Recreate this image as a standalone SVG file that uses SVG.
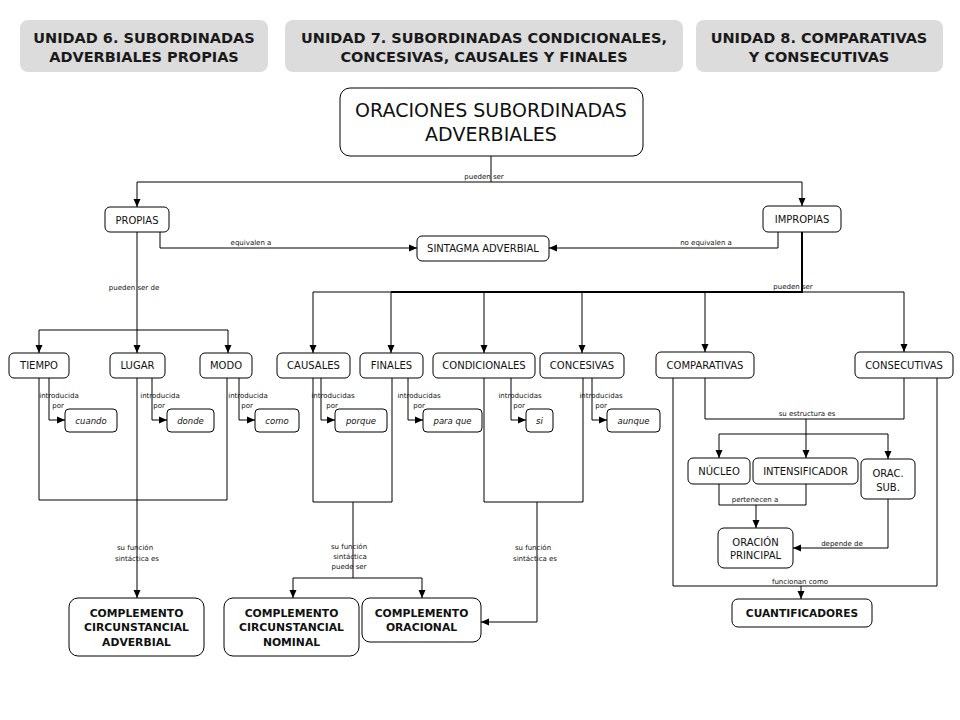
<svg xmlns="http://www.w3.org/2000/svg" width="960" height="720" viewBox="0 0 960 720">
<defs>
<marker id="ar" markerUnits="userSpaceOnUse" markerWidth="8" markerHeight="8" viewBox="0 0 8 8" refX="8" refY="4" orient="auto">
<path d="M0,0.5 L8,4 L0,7.5 Z" fill="#000"/>
</marker>
<style>
.hdr{fill:#dcdcdc;stroke:none}
.ht{font-family:"DejaVu Sans",Verdana,sans-serif;font-weight:bold;font-size:14.5px;fill:#1a1a1a;text-anchor:middle}
.box{fill:#fff;stroke:#000;stroke-width:1}
.bt{font-family:"DejaVu Sans",Verdana,sans-serif;font-size:10px;fill:#111;text-anchor:middle}
.it{font-family:"DejaVu Sans",Verdana,sans-serif;font-size:8.5px;font-style:italic;fill:#111;text-anchor:middle}
.bb{font-family:"DejaVu Sans",Verdana,sans-serif;font-size:10.8px;font-weight:bold;fill:#111;text-anchor:middle}
.tt{font-family:"DejaVu Sans",Verdana,sans-serif;font-size:19px;fill:#111;text-anchor:middle}
.lb{font-family:"DejaVu Sans",Verdana,sans-serif;font-size:7px;fill:#111;text-anchor:middle}
.c{fill:none;stroke:#000;stroke-width:1}
.ca{fill:none;stroke:#000;stroke-width:1;marker-end:url(#ar)}
.thick{fill:none;stroke:#000;stroke-width:2}
</style>
</defs>
<rect width="960" height="720" fill="#fff"/>

<g id="unidad6">
<rect class="hdr" x="20" y="20" width="248" height="52" rx="8"/>
<text class="ht" x="144" y="43">UNIDAD 6. SUBORDINADAS</text>
<text class="ht" x="144" y="62">ADVERBIALES PROPIAS</text>
</g>
<g id="unidad7">
<rect class="hdr" x="285" y="20" width="398" height="52" rx="8"/>
<text class="ht" x="484" y="43">UNIDAD 7. SUBORDINADAS CONDICIONALES,</text>
<text class="ht" x="484" y="62">CONCESIVAS, CAUSALES Y FINALES</text>
</g>
<g id="unidad8">
<rect class="hdr" x="696" y="20" width="247" height="52" rx="8"/>
<text class="ht" x="819" y="43">UNIDAD 8. COMPARATIVAS</text>
<text class="ht" x="819" y="62">Y CONSECUTIVAS</text>
</g>

<g id="connectors">
<path class="c" d="M491,156 V182 M137,182 H802"/>
<path class="ca" d="M137,182 V207"/>
<path class="ca" d="M802,182 V206"/>
<path class="ca" d="M160,232 V248 H417"/>
<path class="ca" d="M778,232 V248 H549"/>
<path class="thick" d="M802,232 V292 H391"/>
<path class="c" d="M391,292 H313 M802,292 H904"/>
<path class="ca" d="M313,292 V353"/>
<path class="ca" d="M391,292 V353"/>
<path class="ca" d="M484,292 V353"/>
<path class="ca" d="M582,292 V353"/>
<path class="ca" d="M705,292 V352"/>
<path class="ca" d="M904,292 V352"/>
<path class="c" d="M137,232 V330 M39,330 H228"/>
<path class="ca" d="M39,330 V353"/>
<path class="ca" d="M137,330 V353"/>
<path class="ca" d="M228,330 V353"/>
<path class="ca" d="M49,378 V420 H65"/>
<path class="ca" d="M152,378 V420 H167"/>
<path class="ca" d="M239,378 V420 H255"/>
<path class="ca" d="M321,378 V420 H335"/>
<path class="ca" d="M408,378 V420 H423"/>
<path class="ca" d="M511,378 V420 H526"/>
<path class="ca" d="M592,378 V420 H607"/>
<path class="c" d="M39,378 V500 H227 V378"/>
<path class="ca" d="M137,378 V598"/>
<path class="c" d="M313,378 V502 H392 V378 M353,502 V578 M293,578 H422"/>
<path class="ca" d="M293,578 V598"/>
<path class="ca" d="M422,578 V598"/>
<path class="c" d="M484,378 V502 H583 V378"/>
<path class="ca" d="M537,502 V622 H481"/>
<path class="c" d="M705,378 V419 H904 V378 M806,419 V434 M719,434 H888"/>
<path class="ca" d="M719,434 V458"/>
<path class="ca" d="M806,434 V458"/>
<path class="ca" d="M888,434 V459"/>
<path class="c" d="M719,484 V505 H806 V484"/>
<path class="ca" d="M756,505 V528"/>
<path class="ca" d="M888,499 V548 H793"/>
<path class="c" d="M673,378 V586 H937 V378"/>
<path class="ca" d="M801,586 V599"/>

<text class="lb" x="484" y="179">pueden ser</text>
<text class="lb" x="251" y="245">equivalen a</text>
<text class="lb" x="706" y="245">no equivalen a</text>
<text class="lb" x="134" y="290">pueden ser de</text>
<text class="lb" x="793" y="289">pueden ser</text>
<text class="lb" x="59" y="398">introducida</text>
<text class="lb" x="58" y="408">por</text>
<text class="lb" x="160" y="398">introducida</text>
<text class="lb" x="159" y="408">por</text>
<text class="lb" x="248" y="398">introducida</text>
<text class="lb" x="247" y="408">por</text>
<text class="lb" x="333" y="398">introducidas</text>
<text class="lb" x="332" y="408">por</text>
<text class="lb" x="419" y="398">introducidas</text>
<text class="lb" x="419" y="408">por</text>
<text class="lb" x="520" y="398">introducidas</text>
<text class="lb" x="519" y="408">por</text>
<text class="lb" x="601" y="398">introducidas</text>
<text class="lb" x="601" y="408">por</text>
<text class="lb" x="807" y="416">su estructura es</text>
<text class="lb" x="755" y="502">pertenecen a</text>
<text class="lb" x="842" y="546">depende de</text>
<text class="lb" x="800" y="584">funcionan como</text>
<text class="lb" x="135" y="550">su función</text>
<text class="lb" x="137" y="561">sintáctica es</text>
<text class="lb" x="349" y="549">su función</text>
<text class="lb" x="350" y="559">sintáctica</text>
<text class="lb" x="349" y="569">puede ser</text>
<text class="lb" x="533" y="550">su función</text>
<text class="lb" x="535" y="561">sintáctica es</text>
</g>

<g id="titulo">
<rect class="box" x="340" y="88" width="303" height="68" rx="10"/>
<text class="tt" x="491" y="117">ORACIONES SUBORDINADAS</text>
<text class="tt" x="491" y="141">ADVERBIALES</text>
</g>
<g id="propias"><rect class="box" x="105" y="207" width="64" height="25" rx="5"/><text class="bt" x="137" y="223.5">PROPIAS</text></g>
<g id="impropias"><rect class="box" x="763" y="206" width="78" height="26" rx="5"/><text class="bt" x="802" y="222.5">IMPROPIAS</text></g>
<g id="sintagma"><rect class="box" x="417" y="236" width="132" height="25" rx="5"/><text class="bt" x="483" y="252">SINTAGMA ADVERBIAL</text></g>

<g id="tiempo"><rect class="box" x="9" y="353" width="60" height="25" rx="5"/><text class="bt" x="39" y="369">TIEMPO</text></g>
<g id="lugar"><rect class="box" x="110" y="353" width="55" height="25" rx="5"/><text class="bt" x="137.5" y="369">LUGAR</text></g>
<g id="modo"><rect class="box" x="200" y="353" width="52" height="25" rx="5"/><text class="bt" x="226" y="369">MODO</text></g>
<g id="causales"><rect class="box" x="277" y="353" width="73" height="25" rx="5"/><text class="bt" x="313.5" y="369">CAUSALES</text></g>
<g id="finales"><rect class="box" x="360" y="353" width="63" height="25" rx="5"/><text class="bt" x="391.5" y="369">FINALES</text></g>
<g id="condicionales"><rect class="box" x="433" y="353" width="102" height="25" rx="5"/><text class="bt" x="484" y="369">CONDICIONALES</text></g>
<g id="concesivas"><rect class="box" x="540" y="353" width="84" height="25" rx="5"/><text class="bt" x="582" y="369">CONCESIVAS</text></g>
<g id="comparativas"><rect class="box" x="656" y="352" width="98" height="26" rx="5"/><text class="bt" x="705" y="369">COMPARATIVAS</text></g>
<g id="consecutivas"><rect class="box" x="855" y="352" width="98" height="26" rx="5"/><text class="bt" x="904" y="369">CONSECUTIVAS</text></g>

<g id="cuando"><rect class="box" x="65" y="409" width="52" height="23" rx="4"/><text class="it" x="91" y="423.5">cuando</text></g>
<g id="donde"><rect class="box" x="167" y="409" width="47" height="23" rx="4"/><text class="it" x="190.5" y="423.5">donde</text></g>
<g id="como"><rect class="box" x="255" y="409" width="44" height="23" rx="4"/><text class="it" x="277" y="423.5">como</text></g>
<g id="porque"><rect class="box" x="335" y="409" width="52" height="23" rx="4"/><text class="it" x="361" y="423.5">porque</text></g>
<g id="paraque"><rect class="box" x="423" y="409" width="59" height="23" rx="4"/><text class="it" x="452.5" y="423.5">para que</text></g>
<g id="si"><rect class="box" x="526" y="409" width="27" height="23" rx="4"/><text class="it" x="539.5" y="423.5">si</text></g>
<g id="aunque"><rect class="box" x="607" y="409" width="53" height="23" rx="4"/><text class="it" x="633.5" y="423.5">aunque</text></g>

<g id="nucleo"><rect class="box" x="688" y="458" width="62" height="26" rx="5"/><text class="bt" x="719" y="474.5">NÚCLEO</text></g>
<g id="intensificador"><rect class="box" x="753" y="458" width="105" height="26" rx="5"/><text class="bt" x="805.5" y="474.5">INTENSIFICADOR</text></g>
<g id="oracsub"><rect class="box" x="861" y="459" width="54" height="40" rx="5"/><text class="bt" x="888" y="477">ORAC.</text><text class="bt" x="888" y="491">SUB.</text></g>
<g id="oracionprincipal"><rect class="box" x="718" y="528" width="75" height="40" rx="6"/><text class="bt" x="755.5" y="546">ORACIÓN</text><text class="bt" x="755.5" y="559">PRINCIPAL</text></g>
<g id="cuantificadores"><rect class="box" x="732" y="599" width="140" height="28" rx="6"/><text class="bb" x="802" y="617" style="font-size:10.6px">CUANTIFICADORES</text></g>

<g id="cca"><rect class="box" x="69" y="598" width="135" height="58" rx="9"/><text class="bb" x="136.5" y="617">COMPLEMENTO</text><text class="bb" x="136.5" y="631">CIRCUNSTANCIAL</text><text class="bb" x="136.5" y="645.5">ADVERBIAL</text></g>
<g id="ccn"><rect class="box" x="224" y="598" width="135" height="58" rx="9"/><text class="bb" x="291.5" y="617">COMPLEMENTO</text><text class="bb" x="291.5" y="631">CIRCUNSTANCIAL</text><text class="bb" x="291.5" y="645.5">NOMINAL</text></g>
<g id="co"><rect class="box" x="362" y="598" width="119" height="44" rx="8"/><text class="bb" x="421.5" y="617">COMPLEMENTO</text><text class="bb" x="421.5" y="631">ORACIONAL</text></g>
</svg>
